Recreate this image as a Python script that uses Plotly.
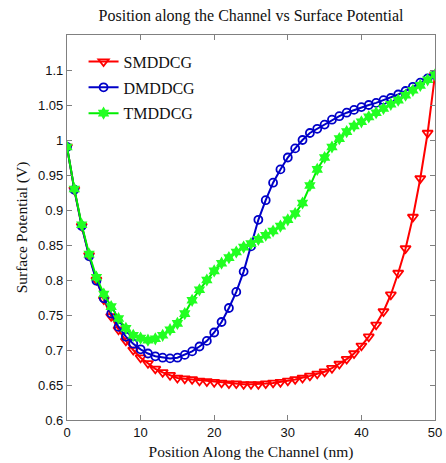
import plotly.graph_objects as go

position_nm = list(range(0, 51))

smddcg = [0.990, 0.929, 0.877, 0.835, 0.800, 0.772, 0.748, 0.729, 0.713, 0.700,
          0.689, 0.681, 0.673, 0.668, 0.664, 0.660, 0.659, 0.658, 0.656, 0.655,
          0.654, 0.653, 0.652, 0.652, 0.651, 0.651, 0.651, 0.652, 0.653, 0.654,
          0.656, 0.658, 0.660, 0.663, 0.666, 0.669, 0.674, 0.680, 0.687, 0.695,
          0.706, 0.719, 0.736, 0.755, 0.779, 0.810, 0.845, 0.890, 0.945, 1.010,
          1.093]

dmddcg = [0.990, 0.929, 0.877, 0.834, 0.799, 0.774, 0.752, 0.733, 0.719, 0.709,
          0.701, 0.695, 0.691, 0.689, 0.688, 0.689, 0.693, 0.698, 0.705, 0.713,
          0.725, 0.740, 0.760, 0.783, 0.812, 0.848, 0.886, 0.914, 0.939, 0.958,
          0.975, 0.988, 1.000, 1.010, 1.016, 1.022, 1.029, 1.034, 1.039, 1.043,
          1.047, 1.050, 1.053, 1.057, 1.060, 1.065, 1.070, 1.076, 1.082, 1.088,
          1.093]

tmddcg = [0.990, 0.930, 0.879, 0.837, 0.804, 0.780, 0.762, 0.745, 0.731, 0.721,
          0.717, 0.714, 0.716, 0.721, 0.729, 0.738, 0.752, 0.771, 0.786, 0.800,
          0.813, 0.824, 0.832, 0.840, 0.847, 0.852, 0.858, 0.864, 0.870, 0.877,
          0.886, 0.895, 0.910, 0.935, 0.958, 0.975, 0.990, 1.002, 1.012, 1.020,
          1.026, 1.033, 1.039, 1.045, 1.051, 1.057, 1.064, 1.071, 1.078, 1.086,
          1.093]

x_ticks = [0, 10, 20, 30, 40, 50]
y_ticks = [0.6, 0.65, 0.7, 0.75, 0.8, 0.85, 0.9, 0.95, 1.0, 1.05, 1.1]
y_tick_labels = ["0.6", "0.65", "0.7", "0.75", "0.8", "0.85", "0.9", "0.95", "1", "1.05", "1.1"]

serif = "Liberation Serif, Times New Roman, serif"
sans = "Liberation Sans, Arial, sans-serif"

fig = go.Figure()
fig.add_trace(go.Scatter(
    x=position_nm, y=smddcg, name="SMDDCG", mode="lines+markers", legendgroup="a",
    line=dict(color="#ff0000", width=2),
    marker=dict(symbol="triangle-down-open", size=9, color="#ff0000", line=dict(width=1.8)),
))
fig.add_trace(go.Scatter(
    x=position_nm, y=dmddcg, name="DMDDCG", mode="lines+markers", legendgroup="b",
    line=dict(color="#0000c8", width=2),
    marker=dict(symbol="circle-open", size=8, color="#0000c8", line=dict(width=1.8)),
))
fig.add_trace(go.Scatter(
    x=position_nm, y=tmddcg, name="TMDDCG", mode="lines+markers", legendgroup="c",
    line=dict(color="#00ee00", width=2),
    marker=dict(symbol="hexagram", size=10, color="#22ff22", line=dict(width=0)),
))

axis_common = dict(
    showline=True, linecolor="#808080", linewidth=1.2, mirror="ticks",
    ticks="inside", ticklen=5, tickcolor="#808080", tickwidth=1,
    showgrid=False, zeroline=False, ticklabeloverflow="allow",
    tickfont=dict(family=sans, size=13, color="#111111"),
)

fig.update_layout(
    width=446, height=463,
    margin=dict(l=67, r=4, t=35, b=43),
    paper_bgcolor="white", plot_bgcolor="white",
    title=dict(text="Position along the Channel vs Surface Potential",
               font=dict(family=serif, size=16, color="#111111"),
               xref="paper", x=0.5, xanchor="center",
               yref="container", y=1 - 15 / 463, yanchor="middle"),
    xaxis=dict(range=[0, 50], tickvals=x_ticks,
               title=dict(text="Position Along the Channel (nm)", standoff=7,
                          font=dict(family=serif, size=15.5, color="#111111")),
               **axis_common),
    yaxis=dict(range=[0.6, 1.15], tickvals=y_ticks, ticktext=y_tick_labels,
               title=dict(text="Surface Potential (V)", standoff=6,
                          font=dict(family=serif, size=15.5, color="#111111")),
               **axis_common),
    legend=dict(x=0.045, y=0.975, xanchor="left", yanchor="top",
                bgcolor="rgba(0,0,0,0)", borderwidth=0, tracegroupgap=2,
                font=dict(family=serif, size=16, color="#111111")),
    showlegend=True,
)

fig.write_html(
    "out.html",
    config={"displayModeBar": False},
    post_script="document.body.style.margin='0';document.body.style.overflow='hidden';",
)
